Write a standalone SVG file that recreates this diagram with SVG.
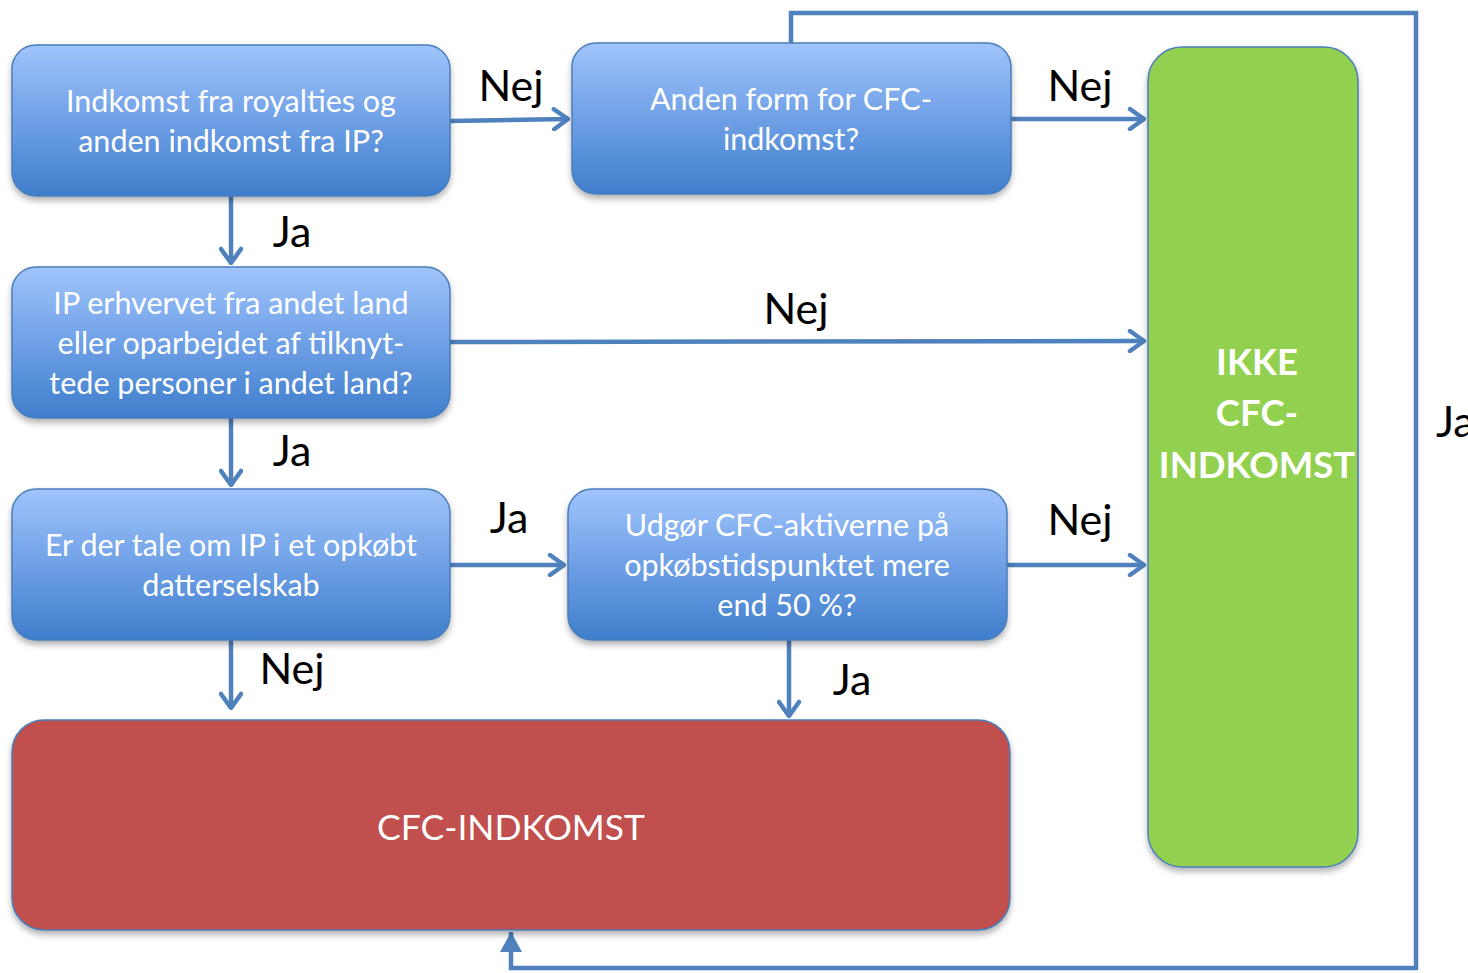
<svg xmlns="http://www.w3.org/2000/svg" width="1468" height="973" viewBox="0 0 1468 973">
<style>
.q{fill:url(#blue);stroke:#4A7EBB;stroke-width:1.5;filter:url(#sh)}
.qt{font-family:Lato,"Open Sans","Liberation Sans",sans-serif;font-size:30.5px;fill:#fff;text-anchor:middle}
.lbl{font-family:Lato,"Open Sans","Liberation Sans",sans-serif;font-size:43px;fill:#000;text-anchor:middle}
.c{fill:none;stroke:#4F81BD;stroke-width:4.5}
.big{font-family:Lato,"Open Sans","Liberation Sans",sans-serif;fill:#fff;text-anchor:middle}
</style>
<defs>
<linearGradient id="blue" x1="0" y1="0" x2="0" y2="1">
<stop offset="0" stop-color="#A0C4FC"/>
<stop offset="0.5" stop-color="#6FA0E6"/>
<stop offset="1" stop-color="#3F7ECC"/>
</linearGradient>
<filter id="sh" x="-10%" y="-10%" width="120%" height="130%">
<feDropShadow dx="0" dy="4" stdDeviation="3" flood-color="#000" flood-opacity="0.3"/>
</filter>
<marker id="chev" viewBox="0 0 20 24" refX="18" refY="12" markerWidth="20" markerHeight="24" markerUnits="userSpaceOnUse" orient="auto">
<path d="M4,2 L18,12 L4,22" fill="none" stroke="#4F81BD" stroke-width="4.5" stroke-linecap="round" stroke-linejoin="round"/>
</marker>
<marker id="tri" viewBox="0 0 20 24" refX="20" refY="12" markerWidth="20" markerHeight="24" markerUnits="userSpaceOnUse" orient="auto">
<path d="M0,1 L20,12 L0,23 Z" fill="#4F81BD"/>
</marker>
</defs>

<g id="connectors">
<path class="c" d="M450,121 L568,119" marker-end="url(#chev)"/>
<path class="c" d="M1011,119 L1144,119" marker-end="url(#chev)"/>
<path class="c" d="M231,196 L231,263" marker-end="url(#chev)"/>
<path class="c" d="M450,342 L1144,341" marker-end="url(#chev)"/>
<path class="c" d="M231,418 L231,485" marker-end="url(#chev)"/>
<path class="c" d="M450,565 L564,565" marker-end="url(#chev)"/>
<path class="c" d="M1007,565 L1144,565" marker-end="url(#chev)"/>
<path class="c" d="M231,640 L231,708" marker-end="url(#chev)"/>
<path class="c" d="M789,640 L789,716" marker-end="url(#chev)"/>
<path class="c" d="M791,43 L791,13 L1416,13 L1416,968 L511,968 L511,932" marker-end="url(#tri)"/>
<text class="lbl" x="511" y="101">Nej</text>
<text class="lbl" x="1080" y="101">Nej</text>
<text class="lbl" x="292" y="247">Ja</text>
<text class="lbl" x="796" y="324">Nej</text>
<text class="lbl" x="292" y="466">Ja</text>
<text class="lbl" x="509" y="533">Ja</text>
<text class="lbl" x="1080" y="535">Nej</text>
<text class="lbl" x="292" y="684">Nej</text>
<text class="lbl" x="852" y="695">Ja</text>
<text class="lbl" x="1436" y="437" style="text-anchor:start">Ja</text>
</g>

<g id="n1">
<rect class="q" x="12" y="45" width="438" height="151" rx="24"/>
<text class="qt" x="231" y="112">Indkomst fra royalties og</text>
<text class="qt" x="231" y="152">anden indkomst fra IP?</text>
</g>
<g id="n2">
<rect class="q" x="572" y="43" width="439" height="151" rx="24"/>
<text class="qt" x="791" y="110">Anden form for CFC-</text>
<text class="qt" x="791" y="150">indkomst?</text>
</g>
<g id="n3">
<rect class="q" x="12" y="267" width="438" height="151" rx="24"/>
<text class="qt" x="231" y="314">IP erhvervet fra andet land</text>
<text class="qt" x="231" y="354">eller oparbejdet af tilknyt-</text>
<text class="qt" x="231" y="394">tede personer i andet land?</text>
</g>
<g id="n4">
<rect class="q" x="12" y="489" width="438" height="151" rx="24"/>
<text class="qt" x="231" y="556">Er der tale om IP i et opkøbt</text>
<text class="qt" x="231" y="596">datterselskab</text>
</g>
<g id="n5">
<rect class="q" x="568" y="489" width="439" height="151" rx="24"/>
<text class="qt" x="787" y="536">Udgør CFC-aktiverne på</text>
<text class="qt" x="787" y="576">opkøbstidspunktet mere</text>
<text class="qt" x="787" y="616">end 50 %?</text>
</g>
<g id="cfc">
<rect x="12" y="720" width="998" height="210" rx="32" fill="#C0504D" stroke="#4A7EBB" stroke-width="1.5" filter="url(#sh)"/>
<text class="big" x="511" y="840" font-size="35.5">CFC-INDKOMST</text>
</g>
<g id="ikke">
<rect x="1148" y="47" width="210" height="820" rx="34" fill="#92D050" stroke="#4A7EBB" stroke-width="1.5" filter="url(#sh)"/>
<text class="big" x="1257" y="375" font-size="36.5" font-weight="bold">IKKE</text>
<text class="big" x="1257" y="426" font-size="36.5" font-weight="bold">CFC-</text>
<text class="big" x="1257" y="478" font-size="36.5" font-weight="bold">INDKOMST</text>
</g>
</svg>
